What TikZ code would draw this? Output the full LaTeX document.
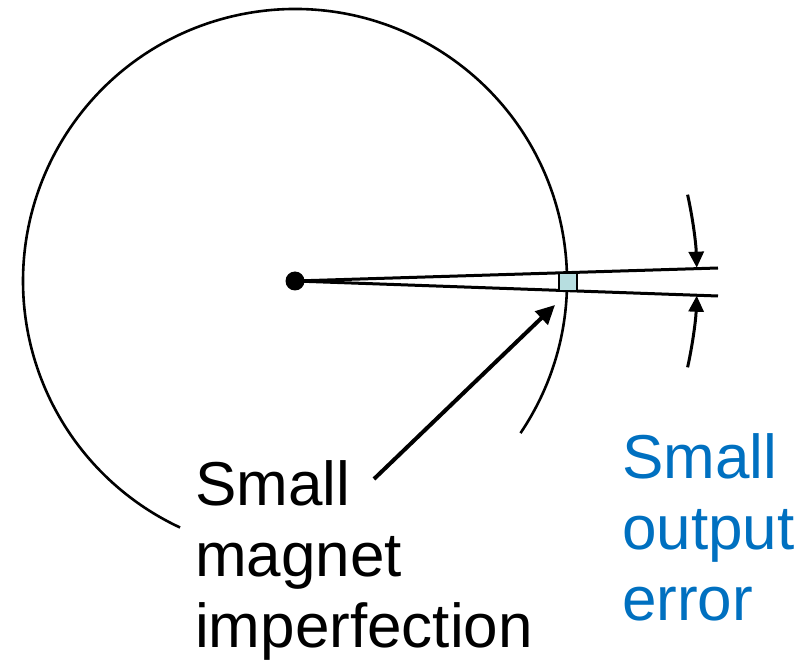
\documentclass[tikz,border=0pt]{standalone}
\usepackage{fontspec}
\setmainfont{Liberation Sans}
\usetikzlibrary{arrows.meta}
\definecolor{errblue}{HTML}{0070C0}
\definecolor{magfill}{HTML}{B7DEE0}
\begin{document}
\begin{tikzpicture}[x=1pt,y=-1pt,
  ring/.style={line width=2.6pt},
  ray/.style={line width=3pt},
  sweep/.style={line width=3pt,-{Triangle[length=16pt,width=15pt]}},
  pointer/.style={line width=4pt,-{Triangle[length=19pt,width=18pt]}},
  label/.style={anchor=base west,align=left,inner sep=0pt,font=\fontsize{62pt}{71pt}\selectfont}]
\useasboundingbox (0,0) rectangle (807,671);
\node[circle,fill=black,inner sep=0pt,minimum size=19pt] (c) at (295,281) {};
\draw[ring] (c.center) ++(34:272) arc[start angle=34,end angle=-245,radius=272];
\coordinate (u1) at (718,268);
\coordinate (u2) at (718,296);
\draw[ray] (c.center) -- (u1);
\draw[ray] (c.center) -- (u2);
\node[draw=black,fill=magfill,line width=1.6pt,inner sep=0pt,minimum width=18pt,minimum height=17pt] (mag) at (568,282) {};
\draw[sweep] (c.center) ++(-12.4:402) arc[start angle=-12.4,end angle=-1.9,radius=402];
\draw[sweep] (c.center) ++(12.4:402) arc[start angle=12.4,end angle=2.1,radius=402];
\node[label] (t1) at (195,647) {Small\\magnet\\imperfection};
\node[label,text=errblue] (t2) at (622,620) {Small\\output\\error};
\coordinate (tail) at (374,479);
\coordinate (tip) at (555,305);
\draw[pointer] (tail) -- (tip);
\end{tikzpicture}
\end{document}
